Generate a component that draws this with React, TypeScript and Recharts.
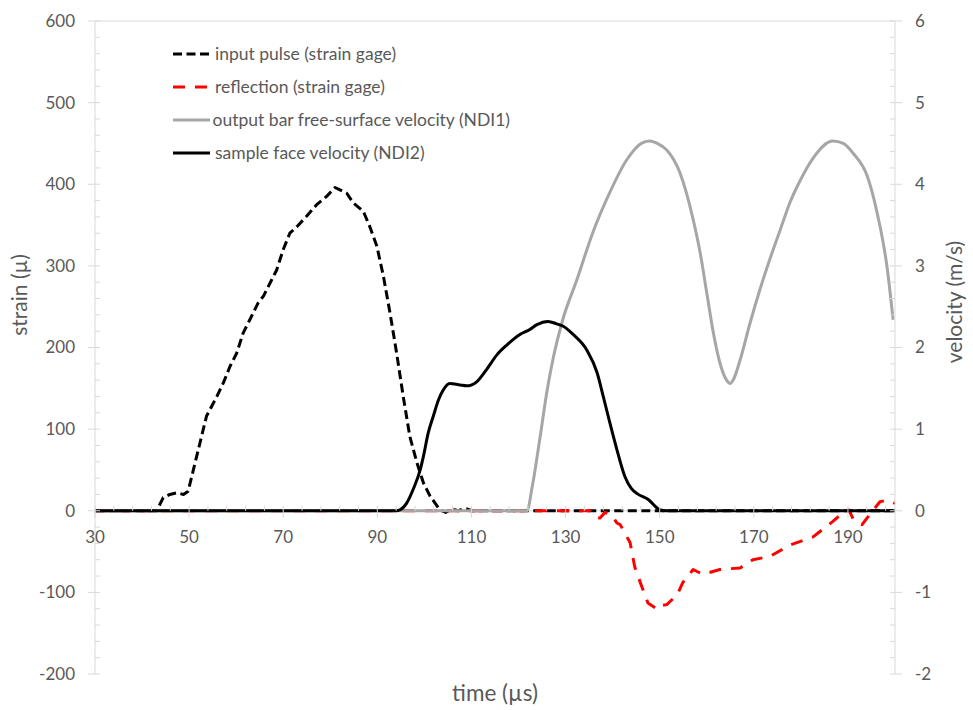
import React from "react"
import { LineChart, Line, XAxis, YAxis, ReferenceLine, Legend } from "recharts"

// [time (µs), value] pairs
const inputPulse: [number, number][] = [
  [30, 0], [43.1, 0], [44.5, 16], [45.9, 20], [47.4, 22], [48.8, 20], [49.8, 24], [50.9, 50],
  [52.3, 83], [53.7, 116], [54.8, 128], [55.9, 140], [57.3, 157], [58.7, 177], [60.1, 193],
  [61.5, 218], [62.9, 234], [64.7, 255], [65.8, 263], [67.2, 279], [68.6, 295], [70.0, 320],
  [71.4, 340], [72.9, 348], [75.0, 361], [77.1, 375], [79.2, 385], [81.0, 396], [83.5, 389],
  [84.9, 377], [87.0, 367], [88.4, 348], [89.9, 324], [91.3, 287], [92.7, 242], [94.1, 193],
  [95.5, 140], [96.9, 91], [98.4, 59], [99.8, 34], [101.2, 18], [103.3, 1], [104.5, -2],
  [105.8, 2], [107.2, 0], [108.6, 3], [110, 0], [200, 0],
]

const reflection: [number, number][] = [
  [30, 0], [135.2, 0], [136.5, -8], [137.3, -9], [138.4, -2], [139.9, -6], [140.9, -15],
  [141.6, -17], [143.7, -39], [144.7, -69], [146.2, -93], [147.5, -113], [149.6, -121],
  [150.6, -116], [151.5, -115], [153.7, -103], [154.9, -88], [157.1, -72], [159.2, -78],
  [162.8, -72], [167.1, -70], [169.8, -60], [173.4, -56], [177.7, -42], [182.6, -32],
  [186.8, -13], [189.4, 0], [190.2, 1], [191.1, -10], [193, -17], [195.1, -1], [196.8, 11],
  [198.3, 13], [199.6, 10], [200, 9],
]

const outputBarVelocity: [number, number][] = [
  [30, 0], [121.8, 0], [122.9, 0.29], [124.6, 0.91], [126, 1.45], [127.3, 1.85], [129.4, 2.34],
  [132.4, 2.83], [135.8, 3.41], [139.4, 3.9], [143, 4.3], [146.4, 4.51], [147.9, 4.53],
  [149.5, 4.5], [151.5, 4.42], [154.3, 4.14], [157.1, 3.57], [158.6, 3.16], [160, 2.67],
  [161.4, 2.18], [162.8, 1.81], [164.2, 1.6], [165, 1.56], [165.6, 1.6], [167.1, 1.85],
  [169.2, 2.3], [171.3, 2.71], [173.4, 3.08], [175.6, 3.44], [177.7, 3.78], [179.8, 4.04],
  [182.6, 4.32], [186.8, 4.53], [189, 4.5], [191.1, 4.38], [194.1, 4.1], [196.2, 3.65],
  [198.3, 2.99], [199.6, 2.34],
]

const sampleFaceVelocity: [number, number][] = [
  [30, 0], [94, 0], [94.8, 0.01], [96.2, 0.09], [97.6, 0.26], [99.1, 0.5], [99.8, 0.67],
  [100.8, 0.95], [101.9, 1.16], [103, 1.36], [104, 1.48], [105.4, 1.56], [107.6, 1.54],
  [109, 1.53], [111.1, 1.58], [113.2, 1.73], [115.4, 1.91], [117.5, 2.03], [120.3, 2.16],
  [122.4, 2.22], [123.9, 2.28], [126.3, 2.32], [128.1, 2.29], [129.5, 2.26], [131.6, 2.16],
  [134.5, 1.97], [136.7, 1.69], [138, 1.4], [139.4, 1.08], [140.9, 0.75], [142.6, 0.42],
  [144, 0.27], [145.2, 0.21], [147.5, 0.14], [150.1, 0.01], [151.5, 0], [200, 0],
]

const timeTicks = Array.from({ length: 43 }, (_, i) => 30 + i * 4)
const strainTicks = Array.from({ length: 41 }, (_, i) => -200 + i * 20)
const velocityTicks = Array.from({ length: 41 }, (_, i) => Math.round((-2 + i * 0.2) * 10) / 10)

const series = [
  { name: "input pulse (strain gage)", data: inputPulse, axis: "s", color: "#000000", dash: "9 4.5", curve: "linear" },
  { name: "reflection (strain gage)", data: reflection, axis: "s", color: "#ff0000", dash: "12 10", curve: "linear" },
  { name: "output bar free-surface velocity (NDI1)", data: outputBarVelocity, axis: "v", color: "#a6a6a6", dash: undefined, curve: "monotone" },
  { name: "sample face velocity (NDI2)", data: sampleFaceVelocity, axis: "v", color: "#000000", dash: undefined, curve: "monotone" },
]

const W = 973
const H = 710
const PLOT_TOP = 21
const PLOT_BOTTOM = 674
const S_MIN = -200
const S_MAX = 600
const ZERO_Y = PLOT_TOP + ((S_MAX - 0) / (S_MAX - S_MIN)) * (PLOT_BOTTOM - PLOT_TOP)

const AXIS = "#d9d9d9"
const TEXT = "#595959"
const FONT = "Lato, 'Open Sans', sans-serif"

function StrainTick({ x, y, payload }: any) {
  const v = payload.value
  if (v % 100 !== 0) return <line x1={x} x2={x + 5} y1={y} y2={y} stroke={AXIS} />
  return (
    <g>
      <line x1={x - 7} x2={x + 5} y1={y} y2={y} stroke={AXIS} />
      <text x={x - 20} y={y} dy="0.35em" textAnchor="end" fill={TEXT} fontSize={17} fontFamily={FONT}>
        {v}
      </text>
    </g>
  )
}

function VelocityTick({ x, y, payload }: any) {
  const v = payload.value
  if (!Number.isInteger(v)) return <line x1={x - 5} x2={x} y1={y} y2={y} stroke={AXIS} />
  return (
    <g>
      <line x1={x - 5} x2={x + 7} y1={y} y2={y} stroke={AXIS} />
      <text x={x + 20} y={y} dy="0.35em" textAnchor="start" fill={TEXT} fontSize={17} fontFamily={FONT}>
        {v}
      </text>
    </g>
  )
}

// x axis crosses at strain = 0, so ticks and labels sit on that line
function TimeTick({ x, payload }: any) {
  const v = payload.value
  if ((v - 30) % 20 !== 0) return <line x1={x} x2={x} y1={ZERO_Y - 5} y2={ZERO_Y} stroke={AXIS} />
  return (
    <g>
      <line x1={x} x2={x} y1={ZERO_Y - 5} y2={ZERO_Y + 7} stroke={AXIS} />
      <text x={x} y={ZERO_Y + 26} dy="0.35em" textAnchor="middle" fill={TEXT} fontSize={17} fontFamily={FONT}>
        {v}
      </text>
    </g>
  )
}

function renderLegend({ payload }: any) {
  const items = [...(payload || [])].sort(
    (a: any, b: any) => series.findIndex((s) => s.name === a.value) - series.findIndex((s) => s.name === b.value)
  )
  return (
    <div style={{ fontFamily: FONT, fontSize: 17.5, color: TEXT }}>
      {items.map((entry: any) => {
        const s = series.find((d) => d.name === entry.value)
        return (
          <div key={entry.value} style={{ display: "flex", alignItems: "center", height: 33, whiteSpace: "nowrap" }}>
            <svg width={45} height={10}>
              <line x1={3} x2={40} y1={5} y2={5} stroke={entry.color} strokeWidth={3} strokeDasharray={s?.dash} />
            </svg>
            <span>{entry.value}</span>
          </div>
        )
      })}
    </div>
  )
}

export default function App() {
  return (
    <div style={{ position: "absolute", left: 0, top: 0, width: W, height: H, background: "#fff", fontFamily: FONT }}>
      <LineChart width={W} height={H} margin={{ top: PLOT_TOP, right: 0, bottom: 0, left: 0 }}>
        <XAxis
          dataKey="t"
          type="number"
          domain={[30, 200]}
          allowDataOverflow
          ticks={timeTicks}
          interval={0}
          height={H - PLOT_BOTTOM}
          axisLine={false}
          tickLine={false}
          tickSize={0}
          tickMargin={0}
          tick={TimeTick}
          label={() => (
            <text x={495} y={693} dy="0.35em" textAnchor="middle" fill={TEXT} fontSize={22.5} fontFamily={FONT}>
              time (µs)
            </text>
          )}
        />
        <YAxis
          yAxisId="s"
          domain={[S_MIN, S_MAX]}
          ticks={strainTicks}
          interval={0}
          width={95}
          axisLine={{ stroke: AXIS }}
          tickLine={false}
          tickSize={0}
          tickMargin={0}
          tick={StrainTick}
          label={() => (
            <text x={20} y={295} dy="0.35em" textAnchor="middle" fill={TEXT} fontSize={21} fontFamily={FONT} transform="rotate(-90 20 295)">
              strain (µ)
            </text>
          )}
        />
        <YAxis
          yAxisId="v"
          orientation="right"
          domain={[-2, 6]}
          ticks={velocityTicks}
          interval={0}
          width={W - 895}
          axisLine={{ stroke: AXIS }}
          tickLine={false}
          tickSize={0}
          tickMargin={0}
          tick={VelocityTick}
          label={() => (
            <text x={955} y={302} dy="0.35em" textAnchor="middle" fill={TEXT} fontSize={21} fontFamily={FONT} transform="rotate(-90 955 302)">
              velocity (m/s)
            </text>
          )}
        />
        <ReferenceLine yAxisId="s" y={600} stroke={AXIS} />
        <ReferenceLine yAxisId="s" y={0} stroke={AXIS} />
        {series.map((s) => (
          <Line
            key={s.name}
            name={s.name}
            yAxisId={s.axis}
            data={s.data.map(([t, v]) => ({ t, v }))}
            dataKey="v"
            type={s.curve as any}
            stroke={s.color}
            strokeWidth={3}
            strokeDasharray={s.dash}
            strokeLinejoin="round"
            dot={false}
            activeDot={false}
            isAnimationActive={false}
          />
        ))}
        <Legend
          layout="vertical"
          align="center"
          verticalAlign="middle"
          content={renderLegend}
          wrapperStyle={{ left: 170, top: 37, width: 340 }}
        />
      </LineChart>
    </div>
  )
}
